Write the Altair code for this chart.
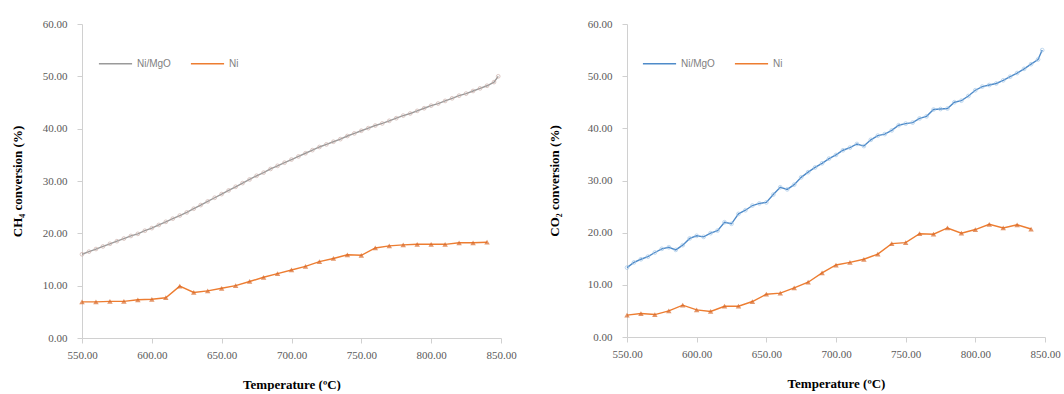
import altair as alt
import pandas as pd

# ---- data ----
temp_dense = [550, 555, 560, 565, 570, 575, 580, 585, 590, 595, 600, 605, 610, 615, 620, 625,
              630, 635, 640, 645, 650, 655, 660, 665, 670, 675, 680, 685, 690, 695, 700, 705,
              710, 715, 720, 725, 730, 735, 740, 745, 750, 755, 760, 765, 770, 775, 780, 785,
              790, 795, 800, 805, 810, 815, 820, 825, 830, 835, 840, 845, 848]
ch4_nimgo = [16.0, 16.5, 17.0, 17.5, 18.0, 18.5, 19.0, 19.5, 19.9, 20.5, 21.0, 21.6, 22.2, 22.8,
             23.4, 24.0, 24.7, 25.4, 26.1, 26.8, 27.5, 28.2, 28.9, 29.6, 30.3, 31.0, 31.6, 32.3,
             32.9, 33.5, 34.1, 34.7, 35.3, 35.9, 36.5, 37.0, 37.5, 38.0, 38.6, 39.1, 39.6, 40.1,
             40.6, 41.0, 41.5, 42.0, 42.5, 42.9, 43.4, 43.9, 44.4, 44.8, 45.3, 45.8, 46.3, 46.7,
             47.2, 47.7, 48.2, 48.9, 50.0]
co2_nimgo = [13.3, 14.3, 14.9, 15.4, 16.2, 16.9, 17.2, 16.7, 17.6, 18.9, 19.4, 19.2, 19.9, 20.4,
             22.0, 21.7, 23.6, 24.3, 25.2, 25.6, 25.8, 27.3, 28.7, 28.3, 29.2, 30.6, 31.6, 32.5,
             33.3, 34.2, 34.9, 35.8, 36.3, 37.0, 36.6, 37.8, 38.6, 38.9, 39.6, 40.6, 40.9, 41.1,
             41.9, 42.3, 43.6, 43.7, 43.8, 45.0, 45.3, 46.2, 47.3, 48.0, 48.3, 48.6, 49.2, 49.9,
             50.6, 51.4, 52.3, 53.2, 55.0]

temp_ni = [550, 560, 570, 580, 590, 600, 610, 620, 630, 640, 650, 660, 670, 680, 690, 700,
           710, 720, 730, 740, 750, 760, 770, 780, 790, 800, 810, 820, 830, 840]
ch4_ni = [6.9, 6.9, 7.0, 7.0, 7.3, 7.4, 7.7, 9.9, 8.7, 9.0, 9.5, 10.0, 10.8, 11.6, 12.3, 13.0,
          13.7, 14.6, 15.2, 15.9, 15.8, 17.2, 17.6, 17.8, 17.9, 17.9, 17.9, 18.2, 18.2, 18.3]
co2_ni = [4.2, 4.5, 4.3, 5.0, 6.1, 5.2, 4.9, 5.9, 5.9, 6.8, 8.2, 8.4, 9.4, 10.5, 12.3, 13.8,
          14.3, 14.9, 15.9, 17.9, 18.1, 19.8, 19.7, 20.9, 19.9, 20.6, 21.6, 20.9, 21.5, 20.7]

series_names = ["Ni/MgO", "Ni"]
x_ticks = [550, 600, 650, 700, 750, 800, 850]
y_ticks = [0, 10, 20, 30, 40, 50, 60]

SERIF = "Liberation Serif"


def panel(nimgo_vals, ni_vals, ytitle, nimgo_line, nimgo_pt, width, height, leg_x, leg_y,
          ytitle_pad):
    df = pd.concat([
        pd.DataFrame({"T": temp_dense, "v": nimgo_vals, "s": series_names[0]}),
        pd.DataFrame({"T": temp_ni, "v": ni_vals, "s": series_names[1]}),
    ])
    x = alt.X("T:Q", scale=alt.Scale(domain=[550, 850], nice=False),
              axis=alt.Axis(values=x_ticks, format=".2f", title="Temperature (ºC)",
                            labelFlush=False))
    y = alt.Y("v:Q", scale=alt.Scale(domain=[0, 60], nice=False),
              axis=alt.Axis(values=y_ticks, format=".2f", title=ytitle, titlePadding=ytitle_pad))
    col = alt.Color("s:N", scale=alt.Scale(domain=series_names, range=[nimgo_line, "#ED7D31"]),
                    legend=alt.Legend(title=None, orient="none", legendX=leg_x, legendY=leg_y,
                                      direction="horizontal", symbolType="stroke",
                                      symbolStrokeWidth=1.5, symbolSize=1100,
                                      labelFont="Liberation Sans", labelFontSize=10,
                                      labelColor="#7f7f7f", columnPadding=16))
    base = alt.Chart(df)
    line = base.mark_line(strokeWidth=1.4).encode(x=x, y=y, color=col)
    pts_m = base.transform_filter(alt.datum.s == "Ni/MgO").mark_point(
        shape="circle", filled=False, size=14, strokeWidth=0.8, color=nimgo_pt, opacity=0.8
    ).encode(x=x, y=y)
    pts_n = base.transform_filter(alt.datum.s == "Ni").mark_point(
        shape="triangle-up", filled=True, size=30, color="#D9692A"
    ).encode(x=x, y=y)
    return alt.layer(line, pts_m, pts_n).properties(width=width, height=height)


left = panel(ch4_nimgo, ch4_ni, "CH₄ conversion (%)", "#9a9a9a", "#c9aaa3", 419, 314, 16, 22, 18)
right = panel(co2_nimgo, co2_ni, "CO₂   conversion (%)", "#4F8BC9", "#9DC3E6", 418, 313, 15, 22, 26)

chart = alt.hconcat(left, right, spacing=31).resolve_scale(color="independent").configure_view(
    stroke=None
).configure_axis(
    grid=False,
    domainColor="#d0d0d0",
    tickColor="#d0d0d0",
    tickSize=5,
    labelFont=SERIF,
    labelFontSize=11,
    labelColor="#595959",
    titleFont=SERIF,
    titleFontSize=13,
    titleFontWeight="bold",
    titleColor="#000000",
).configure_axisX(
    labelPadding=6, titlePadding=18
).configure_axisY(
    labelPadding=10
).properties(padding={"left": 11, "top": 18, "right": 0, "bottom": 0})

chart.save("out.html", embed_options={"renderer": "svg", "actions": False})
